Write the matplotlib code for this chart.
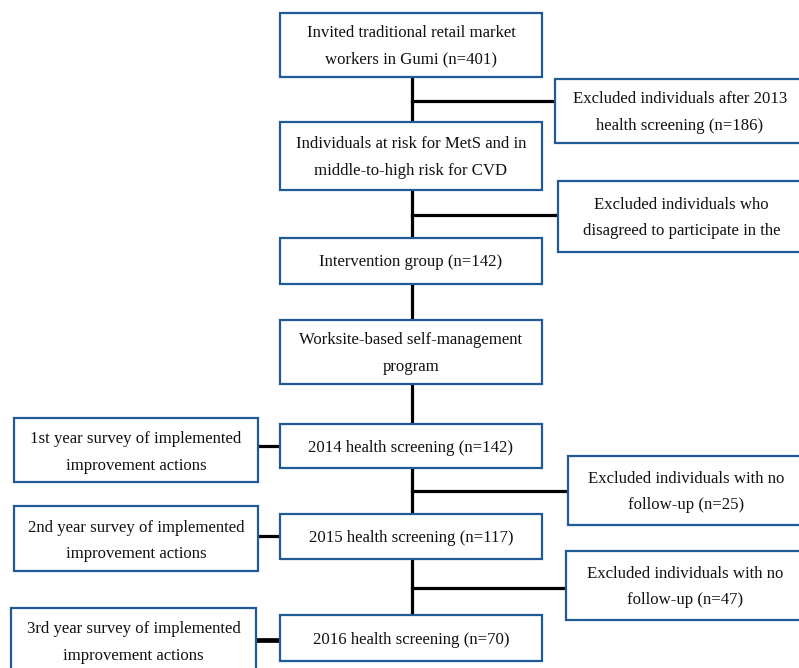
import matplotlib.pyplot as plt
from matplotlib.patches import Rectangle

plt.rcParams['font.family'] = ['Liberation Serif', 'DejaVu Serif']

EDGE = '#1f5a96'

# main column boxes
main_labels = [
    "Invited traditional retail market\nworkers in Gumi (n=401)",
    "Individuals at risk for MetS and in\nmiddle-to-high risk for CVD",
    "Intervention group (n=142)",
    "Worksite-based self-management\nprogram",
    "2014 health screening (n=142)",
    "2015 health screening (n=117)",
    "2016 health screening (n=70)",
]
main_y = [(13, 77), (122, 190), (238, 284), (320, 384), (424, 468), (514, 559), (615, 661)]

# exclusion boxes on the right
right_labels = [
    "Excluded individuals after 2013\nhealth screening (n=186)",
    "Excluded individuals who\ndisagreed to participate in the",
    "Excluded individuals with no\nfollow-up (n=25)",
    "Excluded individuals with no\nfollow-up (n=47)",
]
right_box = [(555, 79, 143), (558, 181, 252), (568, 456, 525), (566, 551, 620)]
right_link_y = [101, 215, 491, 588]

# survey boxes on the left
left_labels = [
    "1st year survey of implemented\nimprovement actions",
    "2nd year survey of implemented\nimprovement actions",
    "3rd year survey of implemented\nimprovement actions",
]
left_box = [(14, 258, 418, 482), (14, 258, 506, 571), (11, 256, 608, 672)]
left_link_y = [446, 536, 640]

fig = plt.figure(figsize=(7.99, 6.68), dpi=100)
ax = fig.add_axes([0, 0, 1, 1])
ax.set_xlim(0, 799)
ax.set_ylim(668, 0)
ax.axis('off')

FS = 12.1
LS = 1.85
CX = 412


def box(x0, x1, y0, y1, text, dy=1.5):
    ax.add_patch(Rectangle((x0, y0), x1 - x0, y1 - y0, facecolor='white',
                           edgecolor=EDGE, lw=1.6, zorder=3))
    ax.text((x0 + x1) / 2, (y0 + y1) / 2 + dy, text, ha='center', va='center',
            fontsize=FS, linespacing=LS, color='#111111', zorder=4)


# connectors
ax.plot([CX, CX], [main_y[0][1], main_y[-1][0]], color='black', lw=2.3, zorder=1)
for (x0, _, _), y in zip(right_box, right_link_y):
    ax.plot([CX, x0], [y, y], color='black', lw=2.3, zorder=1)
for i, ((_, x1, _, _), y) in enumerate(zip(left_box, left_link_y)):
    ax.plot([x1, 280], [y, y], color='black', lw=3.4 if i == 2 else 2.3, zorder=1)

for (y0, y1), t in zip(main_y, main_labels):
    box(280, 542, y0, y1, t)
for (x0, y0, y1), t in zip(right_box, right_labels):
    box(x0, 805, y0, y1, t)
for (x0, x1, y0, y1), t in zip(left_box, left_labels):
    box(x0, x1, y0, y1, t, dy=2.5)

fig.savefig('out.png', dpi=100)
